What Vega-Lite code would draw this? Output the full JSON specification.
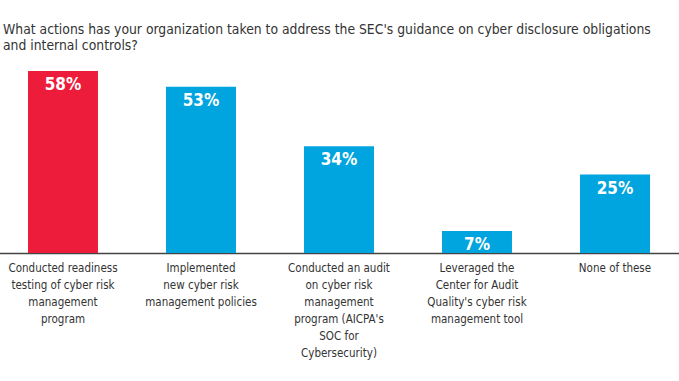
{
  "$schema": "https://vega.github.io/schema/vega-lite/v6.json",
  "width": 679,
  "height": 182,
  "autosize": {"type": "none"},
  "padding": {"left": 0, "top": 71, "right": 0, "bottom": 128},
  "background": "white",
  "title": {
    "text": ["What actions has your organization taken to address the SEC's guidance on cyber disclosure obligations", "and internal controls?"],
    "anchor": "start",
    "frame": "group",
    "dx": 3,
    "offset": 18,
    "font": "DejaVu Sans Condensed",
    "fontSize": 13.8,
    "fontWeight": "normal",
    "color": "#333333",
    "lineHeight": 16
  },
  "data": {
    "values": [
      {"action": "Conducted readiness|testing of cyber risk|management|program", "pct": 58, "hl": "yes"},
      {"action": "Implemented|new cyber risk|management policies", "pct": 53, "hl": "no"},
      {"action": "Conducted an audit|on cyber risk|management|program (AICPA's|SOC for|Cybersecurity)", "pct": 34, "hl": "no"},
      {"action": "Leveraged the|Center for Audit|Quality's cyber risk|management tool", "pct": 7, "hl": "no"},
      {"action": "None of these", "pct": 25, "hl": "no"}
    ]
  },
  "encoding": {
    "x": {
      "field": "action",
      "type": "nominal",
      "sort": null,
      "scale": {"range": [-6, 684], "paddingInner": 0.493, "paddingOuter": 0.2465},
      "axis": {
        "title": null,
        "labelAngle": 0,
        "labelExpr": "split(datum.label, '|')",
        "labelFont": "DejaVu Sans Condensed",
        "labelFontSize": 11.5,
        "labelColor": "#333333",
        "labelLineHeight": 17,
        "labelPadding": 9,
        "labelLimit": 0,
        "labelBaseline": "top",
        "ticks": false,
        "domainColor": "#444444",
        "domainWidth": 1.5
      }
    },
    "y": {
      "field": "pct",
      "type": "quantitative",
      "scale": {"domain": [0, 58], "nice": false},
      "axis": null
    }
  },
  "layer": [
    {
      "mark": {"type": "bar"},
      "encoding": {
        "color": {
          "field": "hl",
          "type": "nominal",
          "scale": {"domain": ["yes", "no"], "range": ["#ED1C3A", "#00A4DE"]},
          "legend": null
        }
      }
    },
    {
      "transform": [{"calculate": "datum.pct + '%'", "as": "lbl"}],
      "mark": {"type": "text", "baseline": "top", "dy": 6, "font": "DejaVu Sans Condensed", "fontSize": 17, "fontWeight": "bold", "color": "white"},
      "encoding": {
        "text": {"field": "lbl", "type": "nominal"}
      }
    }
  ],
  "config": {"view": {"stroke": null}}
}
